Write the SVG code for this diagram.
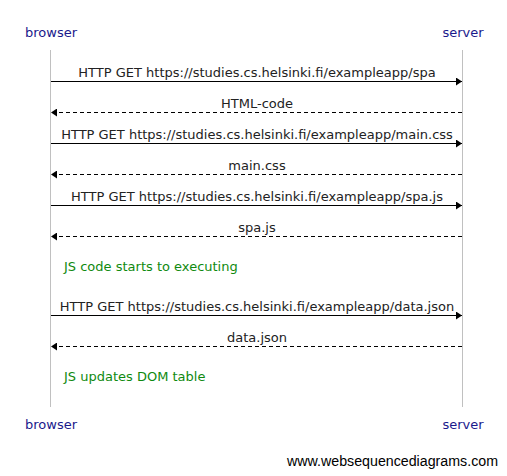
<svg xmlns="http://www.w3.org/2000/svg" width="507" height="476" viewBox="0 0 507 476">
<style>
.p{font-family:"DejaVu Sans",sans-serif;font-size:13px;fill:#1a1a8c;text-anchor:middle}
.m{font-family:"DejaVu Sans",sans-serif;font-size:13px;fill:#222;text-anchor:middle}
.n{font-family:"DejaVu Sans",sans-serif;font-size:13px;fill:#108a10}
.life{stroke:#c0c0c0;stroke-width:1}
.req{stroke:#000;stroke-width:1;fill:none;marker-end:url(#ah)}
.res{stroke:#000;stroke-width:1;fill:none;stroke-dasharray:4,3;marker-end:url(#ah)}
.wm{font-family:"Liberation Sans",Arial,sans-serif;font-size:14px;fill:#000}
</style>
<defs>
<marker id="ah" viewBox="0 0 6 8" refX="6" refY="4" markerWidth="6" markerHeight="8" markerUnits="userSpaceOnUse" orient="auto">
<path d="M0,0 L6,4 L0,8 z" fill="#000"/>
</marker>
</defs>
<g id="browser">
<text class="p" x="51" y="37">browser</text>
<line class="life" x1="50.5" y1="50" x2="50.5" y2="407"/>
<text class="p" x="51" y="429">browser</text>
</g>
<g id="server">
<text class="p" x="463" y="37">server</text>
<line class="life" x1="462.5" y1="50" x2="462.5" y2="407"/>
<text class="p" x="463" y="429">server</text>
</g>
<g id="connectors">
<line class="req" x1="51" y1="81.5" x2="462" y2="81.5"/>
<text class="m" x="257" y="77">HTTP GET https://studies.cs.helsinki.fi/exampleapp/spa</text>
<line class="res" x1="462" y1="112.5" x2="51" y2="112.5"/>
<text class="m" x="257" y="108">HTML-code</text>
<line class="req" x1="51" y1="143.5" x2="462" y2="143.5"/>
<text class="m" x="257" y="139">HTTP GET https://studies.cs.helsinki.fi/exampleapp/main.css</text>
<line class="res" x1="462" y1="174.5" x2="51" y2="174.5"/>
<text class="m" x="257" y="170">main.css</text>
<line class="req" x1="51" y1="205.5" x2="462" y2="205.5"/>
<text class="m" x="257" y="201">HTTP GET https://studies.cs.helsinki.fi/exampleapp/spa.js</text>
<line class="res" x1="462" y1="236.5" x2="51" y2="236.5"/>
<text class="m" x="257" y="232">spa.js</text>
<line class="req" x1="51" y1="315.5" x2="462" y2="315.5"/>
<text class="m" x="257" y="311">HTTP GET https://studies.cs.helsinki.fi/exampleapp/data.json</text>
<line class="res" x1="462" y1="346.5" x2="51" y2="346.5"/>
<text class="m" x="257" y="342">data.json</text>
</g>
<g id="note1"><text class="n" x="64" y="271">JS code starts to executing</text></g>
<g id="note2"><text class="n" x="64" y="381">JS updates DOM table</text></g>
<text class="wm" x="287" y="466" textLength="211" lengthAdjust="spacingAndGlyphs">www.websequencediagrams.com</text>
</svg>
